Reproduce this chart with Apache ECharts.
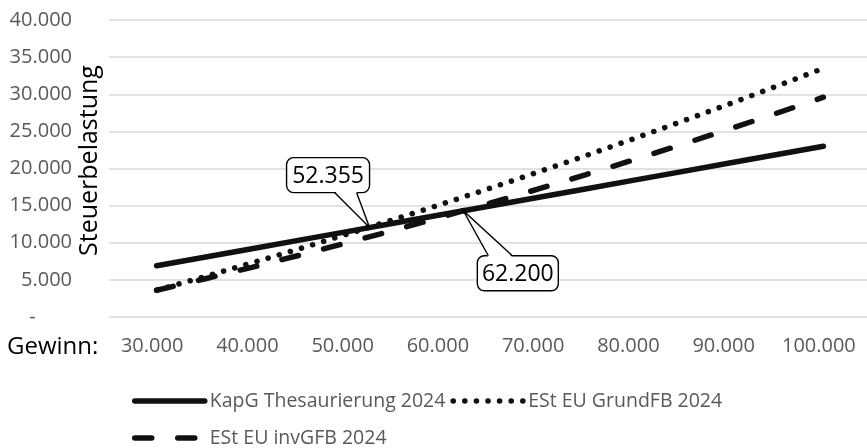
<!DOCTYPE html>
<html>
<head>
<meta charset="utf-8">
<script src="https://cdn.jsdelivr.net/npm/echarts@6/dist/echarts.min.js"></script>
<style>
  html, body { margin: 0; padding: 0; background: #fff; }
  #chart { width: 867px; height: 448px; }
</style>
</head>
<body>
<div id="chart"></div>
<script>
// Gewinn (profit) steps and the resulting tax burden per variant
const gewinn = [30000, 35000, 40000, 45000, 50000, 55000, 60000, 65000, 70000, 75000, 80000, 85000, 90000, 95000, 100000];
const kapgThesaurierung = [6900, 8050, 9200, 10350, 11500, 12650, 13800, 14950, 16100, 17250, 18400, 19550, 20700, 21850, 23000];
const estGrundFB = [3600, 5420, 7280, 9190, 11160, 13170, 15230, 17340, 19500, 21710, 23970, 26280, 28630, 31040, 33500];
const estInvGFB = [3600, 5120, 6690, 8320, 9990, 11720, 13500, 15330, 17210, 19150, 21130, 23170, 25260, 27400, 29600];

// tick labels on the profit axis
const gewinnTicks = [30000, 40000, 50000, 60000, 70000, 80000, 90000, 100000];

// break-even points (Gewinn, Steuerbelastung)
const schnittGewinn = [52355, 62200];
const schnittSteuer = [12040, 14310];

const seriesNames = ['KapG Thesaurierung 2024', 'ESt EU GrundFB 2024', 'ESt EU invGFB 2024'];

// callout geometry relative to the pointed-at point (pixels)
const calloutLayout = [
  { left: -83, right: 0, top: -70, bottom: -35, w1: -35, w2: -13, side: 'bottom' },
  { left: 14, right: 95, top: 45, bottom: 80, w1: 25, w2: 49, side: 'top' }
];

const FONT = '"Open Sans", "Noto Sans", sans-serif';
const INK = '#111111';

function fmt(v) {
  return String(Math.round(v)).replace(/\B(?=(\d{3})+(?!\d))/g, '.');
}
function pairs(xs, ys) {
  return xs.map((x, i) => [x, ys[i]]);
}

const chart = echarts.init(document.getElementById('chart'), null, { renderer: 'canvas' });

const dotted = [0.1, 11.5];
const dashed = [17, 26];
const hiddenSymbol = { color: 'rgba(0,0,0,0)', borderWidth: 0, opacity: 0 };
// accounting-style zero: a dash followed by fixed spacing
const zeroLabel = '-' + '\u00a0'.repeat(7);

chart.setOption({
  animation: false,
  backgroundColor: '#fff',
  // x-axis caption, set left of the tick labels
  title: {
    text: 'Gewinn:',
    left: 7, top: 335, padding: 0,
    textStyle: { fontSize: 24, fontWeight: 'normal', color: '#000', fontFamily: FONT }
  },
  grid: { left: 109, right: -4, top: 20, bottom: 131, containLabel: false, outerBoundsMode: 'none' },
  legend: [
    {
      left: 132, top: 391, padding: 0, itemWidth: 70, itemHeight: 20, itemGap: 5,
      textStyle: { fontSize: 19.5, color: '#595959', fontFamily: FONT },
      itemStyle: hiddenSymbol,
      data: [
        { name: seriesNames[0], itemStyle: hiddenSymbol, lineStyle: { width: 5.5, cap: 'round', color: INK } },
        { name: seriesNames[1], itemStyle: hiddenSymbol, lineStyle: { width: 5.5, type: dotted, cap: 'round', color: INK } }
      ]
    },
    {
      left: 132, top: 428, padding: 0, itemWidth: 70, itemHeight: 20,
      textStyle: { fontSize: 19.5, color: '#595959', fontFamily: FONT },
      itemStyle: hiddenSymbol,
      data: [
        { name: seriesNames[2], itemStyle: hiddenSymbol, lineStyle: { width: 5.5, type: dashed, cap: 'round', color: INK } }
      ]
    }
  ],
  xAxis: {
    type: 'value',
    min: 25000,
    max: 105000,
    axisLine: { show: false },
    axisTick: { show: false },
    splitLine: { show: false },
    axisLabel: {
      customValues: gewinnTicks,
      formatter: fmt,
      color: '#595959',
      fontSize: 20,
      fontFamily: FONT,
      margin: 19,
      padding: [0, 9, 0, 0]
    }
  },
  yAxis: {
    type: 'value',
    min: 0,
    max: 40000,
    interval: 5000,
    axisLine: { show: false },
    axisTick: { show: false },
    splitLine: { lineStyle: { color: '#d9d9d9', width: 1.5 } },
    axisLabel: {
      color: '#595959',
      fontSize: 20,
      fontFamily: FONT,
      margin: 37,
      showMinLabel: true,
      hideOverlap: false,
      formatter: v => (v === 0 ? zeroLabel : fmt(v))
    },
    name: 'Steuerbelastung',
    nameLocation: 'middle',
    nameGap: 7,
    nameRotate: 90,
    nameMoveOverlap: false,
    nameTextStyle: { fontSize: 25, color: '#000', fontFamily: FONT, padding: [0, 0, 0, 16] }
  },
  series: [
    {
      name: seriesNames[0], type: 'line', symbol: 'none',
      data: pairs(gewinn, kapgThesaurierung),
      itemStyle: { color: INK },
      lineStyle: { color: INK, width: 5.5, cap: 'round' }
    },
    {
      name: seriesNames[1], type: 'line', symbol: 'none',
      data: pairs(gewinn, estGrundFB),
      itemStyle: { color: INK },
      lineStyle: { color: INK, width: 5.5, type: dotted, cap: 'round' }
    },
    {
      name: seriesNames[2], type: 'line', symbol: 'none',
      data: pairs(gewinn, estInvGFB),
      itemStyle: { color: INK },
      lineStyle: { color: INK, width: 5.5, type: dashed, cap: 'round' }
    },
    {
      // callouts with the break-even profit
      name: 'Schnittpunkte', type: 'custom', coordinateSystem: 'cartesian2d',
      silent: true, clip: false, z: 10,
      encode: { x: 0, y: 1 },
      data: pairs(schnittGewinn, schnittSteuer),
      renderItem: function (params, api) {
        const p = api.coord([api.value(0), api.value(1)]);
        const c = calloutLayout[params.dataIndex];
        const L = p[0] + c.left, R = p[0] + c.right, T = p[1] + c.top, B = p[1] + c.bottom;
        const edge = c.side === 'bottom' ? B : T;
        const inset = c.side === 'bottom' ? -1.6 : 1.6;
        const b1 = p[0] + c.w1, b2 = p[0] + c.w2;
        return {
          type: 'group',
          children: [
            { type: 'rect', shape: { x: L, y: T, width: R - L, height: B - T, r: 7 },
              style: { fill: '#fff', stroke: '#000', lineWidth: 1.4 } },
            { type: 'polygon', shape: { points: [[b1, edge + inset], [b2, edge + inset], [p[0], p[1]]] },
              style: { fill: '#fff', stroke: null } },
            { type: 'polyline', shape: { points: [[b1, edge], [p[0], p[1]], [b2, edge]] },
              style: { fill: null, stroke: '#000', lineWidth: 1.4 } },
            { type: 'text',
              style: { text: fmt(api.value(0)), x: (L + R) / 2, y: (T + B) / 2 + 1,
                       align: 'center', verticalAlign: 'middle', fill: '#000',
                       font: '23px ' + FONT } }
          ]
        };
      }
    }
  ]
});
</script>
</body>
</html>
